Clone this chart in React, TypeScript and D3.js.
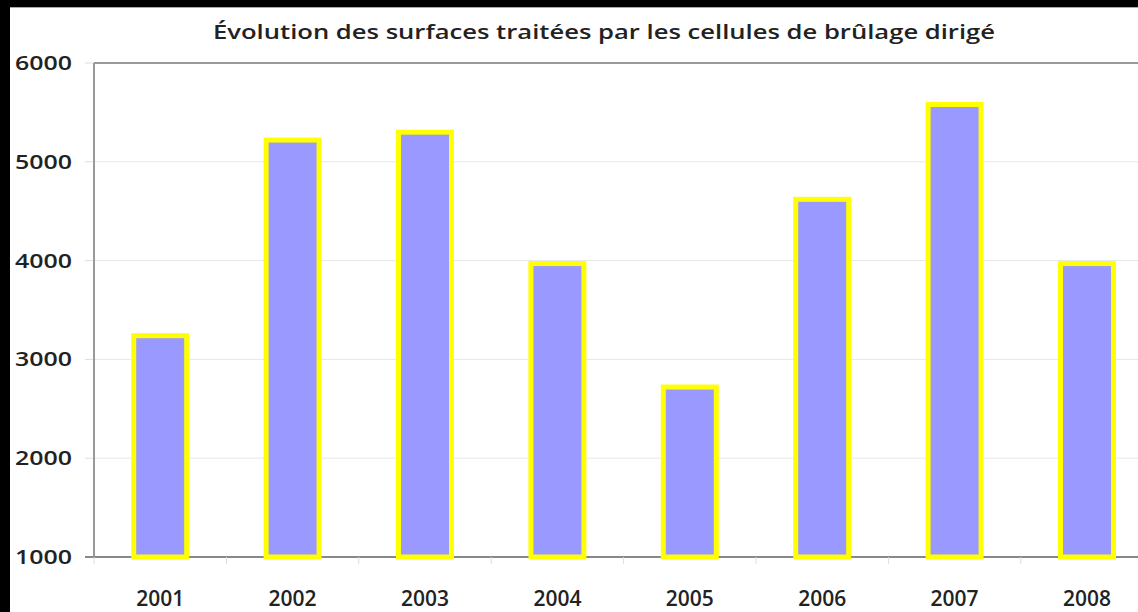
import React from 'react'
import { scaleBand, scaleLinear } from 'd3'

const years = ['2001', '2002', '2003', '2004', '2005', '2006', '2007', '2008']
const surfaces = [3240, 5220, 5300, 3970, 2720, 4620, 5580, 3970]
const yTicks = [1000, 2000, 3000, 4000, 5000, 6000]
const title = 'Évolution des surfaces traitées par les cellules de brûlage dirigé'

export default function App() {
  const width = 1138
  const height = 612
  const left = 94
  const top = 63
  const bottom = 557
  const right = left + 132.4 * years.length

  const x = scaleBand().domain(years).range([left, right]).paddingInner(0.6).paddingOuter(0.3)
  const bands = scaleBand().domain(years).range([left, right])
  const y = scaleLinear().domain([1000, 6000]).range([bottom, top])
  const font = '"Open Sans", "DejaVu Sans", sans-serif'

  return (
    <svg width={width} height={height} style={{ position: 'absolute', left: 0, top: 0, background: '#fff' }}>
      <rect x={0} y={0} width={width} height={height} fill="#fff" />
      <rect x={0} y={0} width={width} height={7} fill="#000" />
      <rect x={0} y={0} width={10} height={height} fill="#000" />
      <line x1={10} x2={width} y1={7.5} y2={7.5} stroke="#aaa" strokeWidth={1} />
      <text
        x={213}
        y={39}
        textLength={782}
        lengthAdjust="spacingAndGlyphs"
        fontFamily={font}
        fontWeight={600}
        fontSize={20}
        fill="#222"
      >
        {title}
      </text>
      {yTicks.map(t => (
        <g key={t}>
          {t > 1000 && t < 6000 && (
            <line x1={left} x2={width} y1={y(t)} y2={y(t)} stroke="#e6e6e6" strokeWidth={1} />
          )}
          <line x1={left - 9} x2={left} y1={y(t)} y2={y(t)} stroke="#ddd" strokeWidth={1} />
          <text
            x={15}
            y={y(t) + 7}
            textLength={57}
            lengthAdjust="spacingAndGlyphs"
            fontFamily={font}
            fontWeight={600}
            fontSize={20}
            fill="#222"
          >
            {t}
          </text>
        </g>
      ))}
      <line x1={left} x2={width} y1={top} y2={top} stroke="#999" strokeWidth={2} />
      <line x1={left} x2={left} y1={top} y2={bottom} stroke="#999" strokeWidth={2} />
      <line x1={left - 9} x2={width} y1={bottom} y2={bottom} stroke="#888" strokeWidth={2} />
      {years.map(yr => (
        <line
          key={'t' + yr}
          x1={bands(yr)!}
          x2={bands(yr)!}
          y1={bottom}
          y2={bottom + 7}
          stroke="#ddd"
          strokeWidth={1}
        />
      ))}
      {years.map((yr, i) => (
        <rect
          key={yr}
          x={x(yr)!}
          y={y(surfaces[i])}
          width={x.bandwidth()}
          height={bottom - y(surfaces[i])}
          fill="#9999ff"
          stroke="#ffff00"
          strokeWidth={5}
        />
      ))}
      {years.map(yr => (
        <text
          key={'l' + yr}
          x={bands(yr)! + bands.bandwidth() / 2 - 24}
          y={606}
          textLength={48}
          lengthAdjust="spacingAndGlyphs"
          fontFamily={font}
          fontWeight={600}
          fontSize={21.5}
          fill="#222"
        >
          {yr}
        </text>
      ))}
    </svg>
  )
}
